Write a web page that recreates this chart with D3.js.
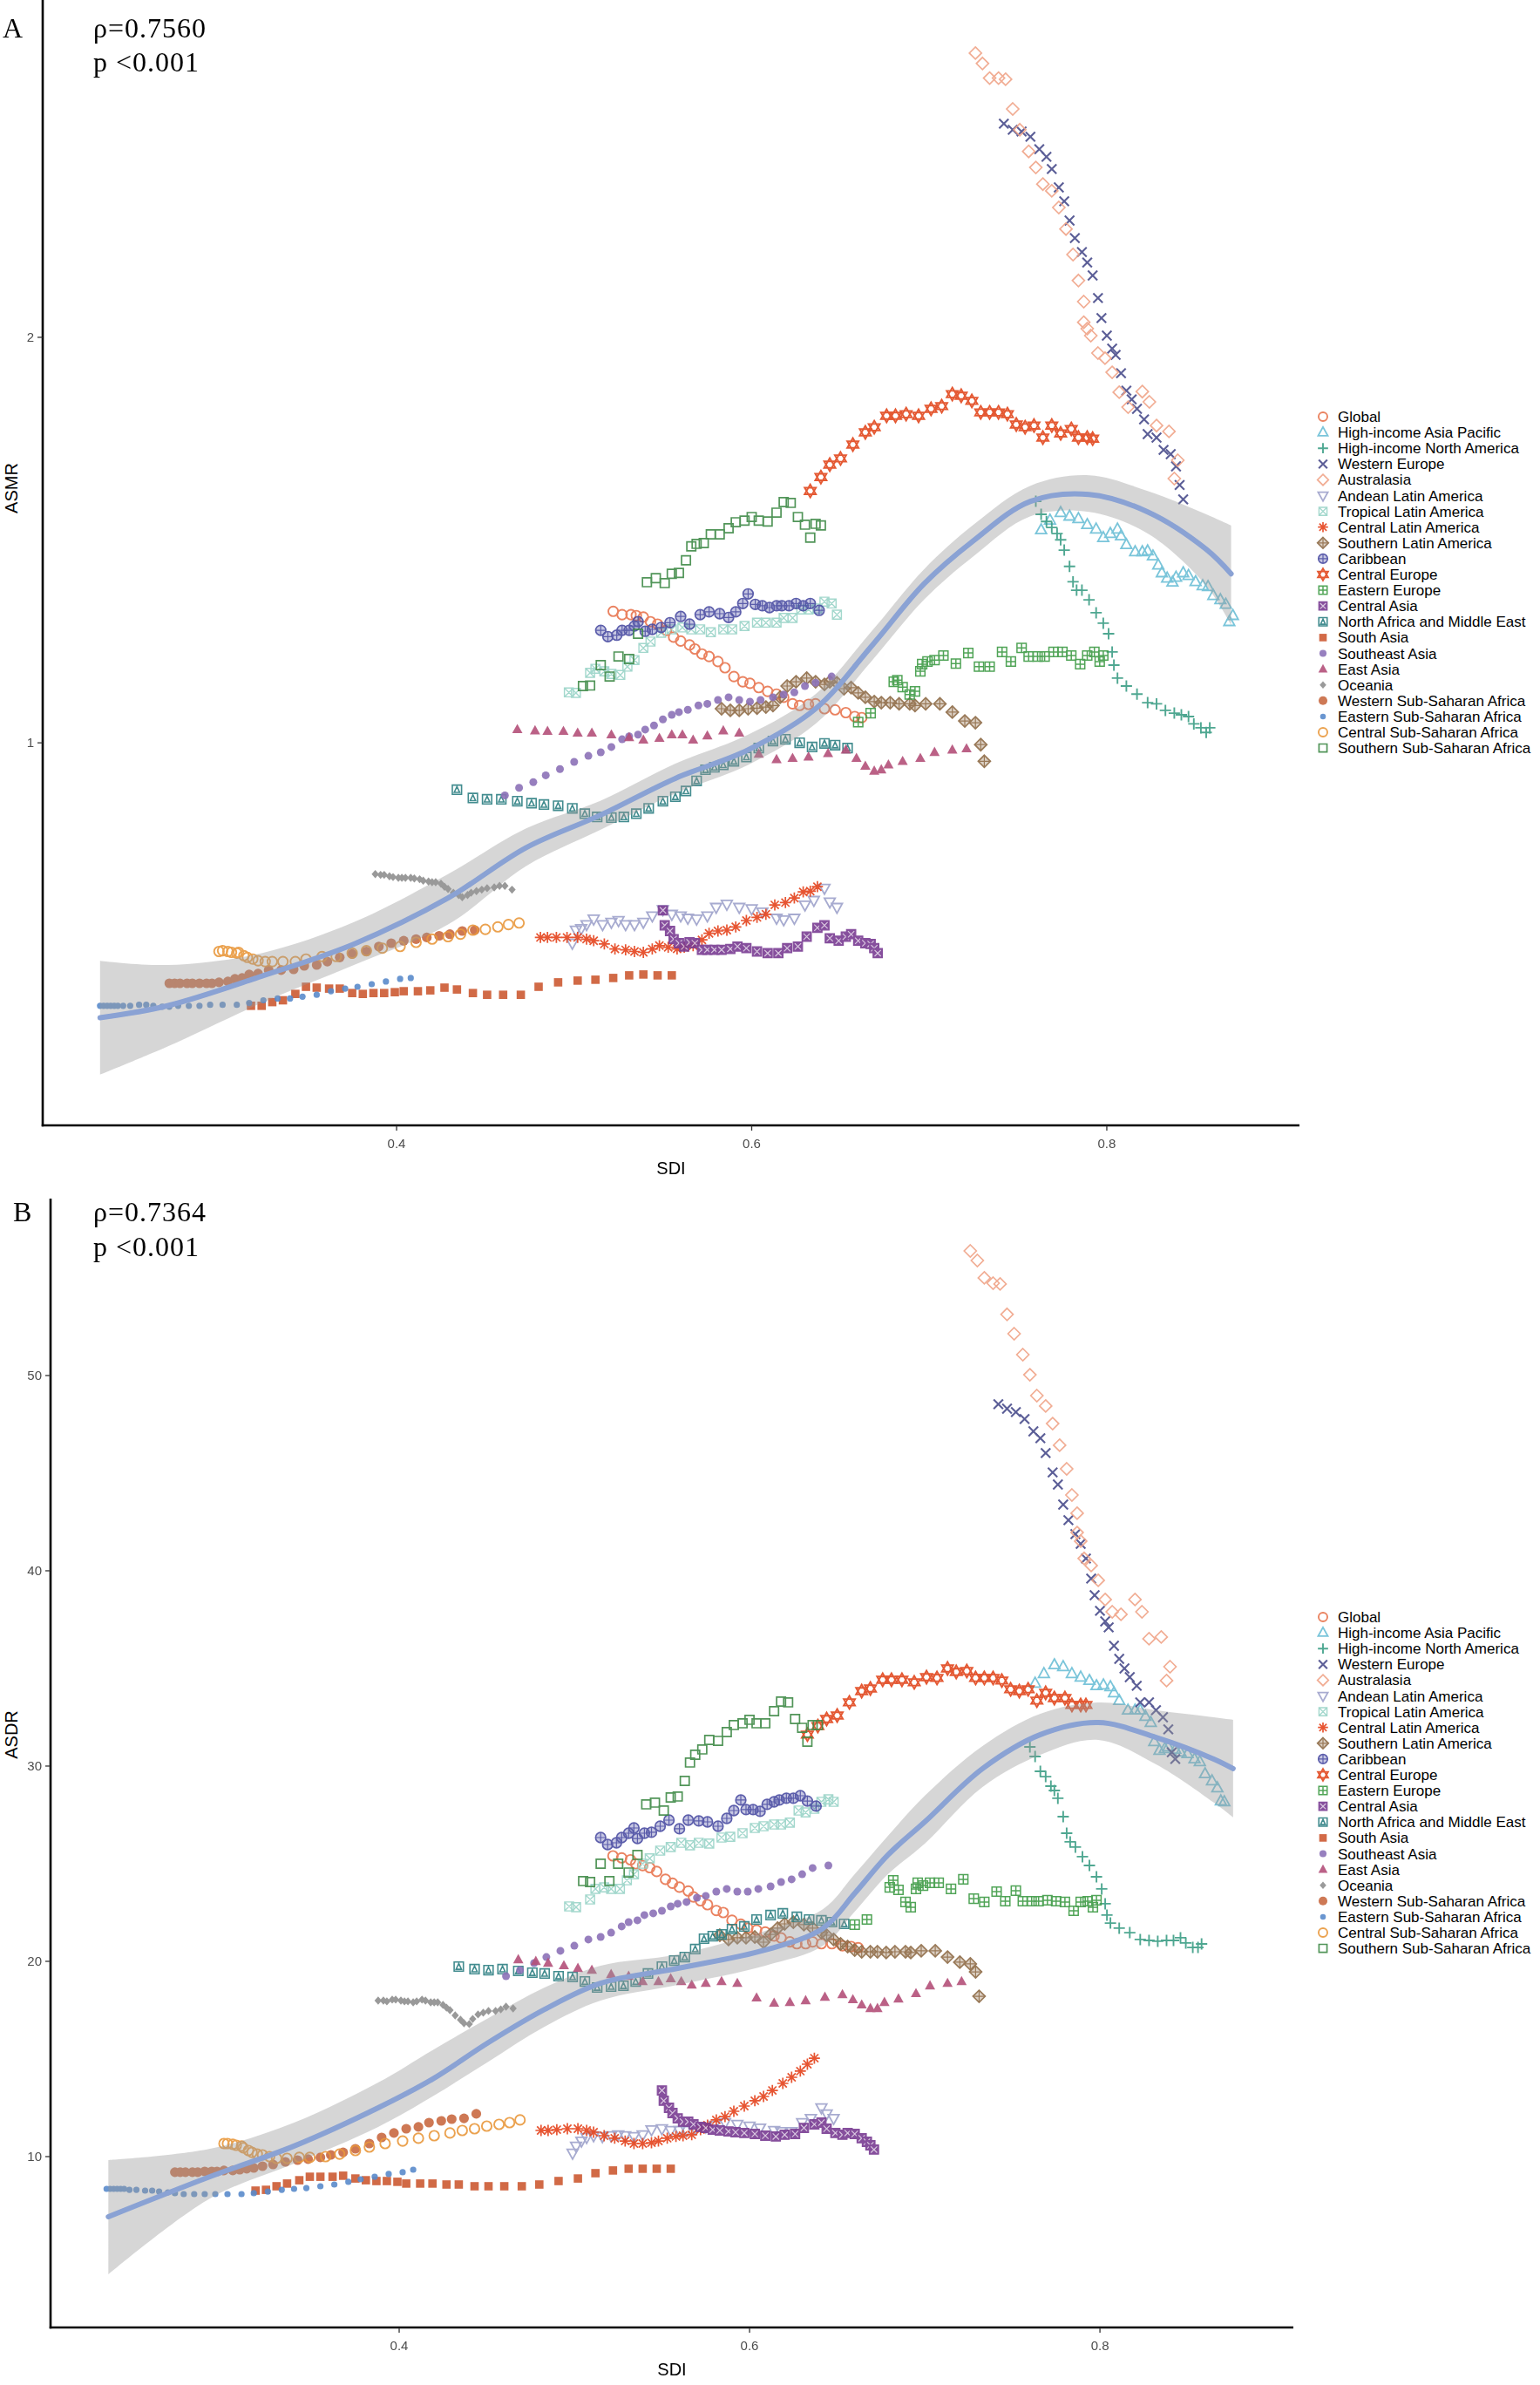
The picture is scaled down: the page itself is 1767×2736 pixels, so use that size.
<!DOCTYPE html>
<html><head><meta charset="utf-8">
<script src="https://cdn.jsdelivr.net/npm/d3@7"></script>
<style>body{margin:0;background:#fff}</style>
</head><body>
<svg id="chart" width="1767" height="2736"></svg>
<script>
// ---------------- DATA ----------------
const regionNames = ["Global","High-income Asia Pacific","High-income North America","Western Europe","Australasia","Andean Latin America","Tropical Latin America","Central Latin America","Southern Latin America","Caribbean","Central Europe","Eastern Europe","Central Asia","North Africa and Middle East","South Asia","Southeast Asia","East Asia","Oceania","Western Sub-Saharan Africa","Eastern Sub-Saharan Africa","Central Sub-Saharan Africa","Southern Sub-Saharan Africa"];
const regionColors = ["#E8754F","#6CBFD6","#3C9E86","#4A4D8C","#F0A488","#9EA2CB","#9AD4C8","#E5431C","#8E6B46","#4B4DA3","#E2471D","#3E9B45","#7A3C93","#2E8083","#CD5A33","#8C72B8","#B4507A","#8F8F8F","#C96A42","#5A8BCB","#E9983C","#3F8A47"];
const regionShapes = ["circleOpen","triUp","plus","cross","diamond","triDown","squareCross","asterisk","diamondPlus","circlePlus","hexagram","squarePlus","squareX","squareTri","squareFill","circleFill","triFill","diamondSmall","circleSolid","bullet","circleOpen","squareOpen"];

const sdiGlobal=[0.522,0.527,0.532,0.535,0.539,0.543,0.547,0.552,0.556,0.560,0.565,0.568,0.572,0.576,0.581,0.585,0.590,0.595,0.599,0.604,0.609,0.614,0.618,0.623,0.627,0.632,0.636,0.641,0.647,0.653,0.658,0.662];
const asmrGlobal=[1.252,1.245,1.245,1.243,1.240,1.230,1.225,1.212,1.198,1.190,1.182,1.174,1.164,1.159,1.149,1.137,1.120,1.110,1.107,1.099,1.092,1.087,1.081,1.069,1.066,1.068,1.069,1.060,1.058,1.053,1.046,1.044];
const asdrGlobal=[25.4,25.3,25.2,25.0,24.9,24.8,24.6,24.2,24.0,23.8,23.6,23.3,23.1,22.9,22.6,22.5,22.1,21.9,21.7,21.6,21.5,21.3,21.2,21.0,20.9,20.9,21.0,20.9,20.9,20.8,20.76,20.7];

const sdiHIAP=[0.763,0.768,0.774,0.779,0.784,0.789,0.794,0.798,0.802,0.806,0.808,0.811,0.816,0.820,0.823,0.826,0.829,0.831,0.834,0.837,0.839,0.843,0.846,0.850,0.854,0.857,0.860,0.864,0.867,0.871,0.869];
const asmrHIAP=[1.439,1.463,1.482,1.473,1.467,1.452,1.441,1.420,1.430,1.441,1.424,1.403,1.386,1.386,1.388,1.376,1.355,1.337,1.325,1.316,1.327,1.337,1.331,1.317,1.308,1.306,1.286,1.277,1.267,1.243,1.230];
const asdrHIAP=[34.24,34.73,35.18,35.09,34.73,34.55,34.38,34.11,34.15,34.06,33.75,33.35,32.86,32.86,32.86,32.54,32.23,31.25,30.80,30.89,30.98,30.85,30.71,30.63,30.36,30.22,29.60,29.24,28.88,28.17,28.21];

const sdiHINA=[0.760,0.763,0.766,0.769,0.772,0.774,0.776,0.779,0.781,0.783,0.786,0.790,0.794,0.798,0.801,0.803,0.804,0.806,0.811,0.817,0.823,0.828,0.833,0.838,0.842,0.846,0.849,0.853,0.856,0.858];
const asmrHINA=[1.511,1.478,1.460,1.445,1.430,1.415,1.390,1.352,1.317,1.298,1.298,1.277,1.249,1.227,1.205,1.168,1.142,1.117,1.102,1.087,1.071,1.069,1.057,1.052,1.049,1.046,1.033,1.026,1.018,1.026];
const asdrHINA=[30.98,30.49,29.73,29.46,28.97,28.75,28.35,27.41,26.56,26.12,25.85,25.36,24.91,24.33,23.71,22.95,22.37,21.96,21.70,21.47,21.12,21.07,21.03,21.07,21.07,21.21,20.94,20.71,20.71,20.89];

const sdiWEur=[0.742,0.747,0.752,0.757,0.762,0.766,0.769,0.773,0.776,0.779,0.782,0.786,0.789,0.792,0.795,0.797,0.800,0.803,0.805,0.808,0.811,0.814,0.817,0.821,0.823,0.828,0.832,0.836,0.839,0.841,0.843];
const asmrWEur=[2.882,2.852,2.843,2.818,2.759,2.723,2.667,2.584,2.524,2.442,2.370,2.314,2.273,2.223,2.139,2.067,2.006,1.962,1.941,1.881,1.826,1.799,1.770,1.738,1.695,1.685,1.650,1.638,1.604,1.554,1.516];
const asdrWEur=[48.53,48.30,48.13,47.77,47.14,46.79,46.03,45.04,44.42,43.39,42.59,41.88,41.38,40.63,39.60,38.75,37.95,37.41,37.10,36.16,35.49,35.00,34.55,34.11,33.26,33.26,32.86,32.50,31.88,30.71,30.36];

const sdiAus=[0.726,0.730,0.734,0.739,0.743,0.747,0.751,0.756,0.760,0.764,0.769,0.773,0.777,0.781,0.784,0.787,0.787,0.789,0.791,0.795,0.799,0.803,0.807,0.812,0.820,0.824,0.828,0.835,0.840,0.838];
const asmrAus=[3.251,3.194,3.115,3.115,3.109,2.955,2.852,2.748,2.674,2.599,2.569,2.497,2.407,2.304,2.204,2.126,2.052,2.030,2.006,1.947,1.930,1.884,1.821,1.775,1.823,1.791,1.720,1.703,1.621,1.571];
const asdrAus=[56.38,55.89,55.0,54.73,54.69,53.13,52.14,51.07,50.04,48.97,48.44,47.54,46.43,45.22,43.88,42.95,41.96,41.52,40.63,40.27,39.51,38.53,37.90,37.77,38.53,37.90,36.52,36.61,35.09,34.38];

const sdiAndean=[0.499,0.501,0.504,0.507,0.511,0.516,0.521,0.525,0.529,0.534,0.539,0.544,0.550,0.555,0.560,0.564,0.569,0.575,0.580,0.586,0.593,0.600,0.606,0.614,0.618,0.624,0.630,0.635,0.641,0.644,0.648];
const asmrAndean=[0.710,0.726,0.728,0.733,0.740,0.733,0.736,0.738,0.733,0.733,0.736,0.744,0.752,0.746,0.744,0.741,0.740,0.744,0.755,0.759,0.755,0.753,0.749,0.741,0.739,0.741,0.758,0.764,0.780,0.762,0.755];
const asdrAndean=[10.18,10.54,10.80,10.98,11.07,11.03,11.07,11.12,11.07,11.03,11.12,11.38,11.43,11.34,11.34,11.34,11.43,11.52,11.61,11.74,11.65,11.56,11.47,11.34,11.29,11.29,11.74,11.96,12.50,12.19,11.96];

const sdiTropLA=[0.497,0.501,0.509,0.512,0.517,0.521,0.526,0.530,0.534,0.539,0.543,0.549,0.555,0.561,0.566,0.571,0.577,0.584,0.589,0.596,0.603,0.608,0.614,0.618,0.623,0.628,0.632,0.637,0.641,0.645,0.648];
const asmrTropLA=[1.090,1.089,1.127,1.135,1.130,1.125,1.123,1.139,1.152,1.176,1.189,1.207,1.214,1.218,1.214,1.214,1.208,1.214,1.214,1.221,1.228,1.228,1.228,1.238,1.238,1.256,1.256,1.258,1.273,1.269,1.245];
const asdrTropLA=[22.81,22.77,23.17,23.71,23.79,23.71,23.71,24.15,24.46,25.0,25.27,25.67,25.85,26.07,25.94,26.07,26.03,26.34,26.38,26.56,26.83,26.92,27.01,27.01,27.10,27.72,27.63,27.81,28.17,28.30,28.17];

const sdiCenLA=[0.481,0.485,0.490,0.496,0.502,0.507,0.511,0.517,0.523,0.529,0.534,0.539,0.544,0.548,0.553,0.558,0.562,0.567,0.572,0.576,0.581,0.586,0.591,0.597,0.603,0.608,0.613,0.619,0.624,0.629,0.633,0.637];
const asmrCenLA=[0.717,0.717,0.717,0.717,0.717,0.715,0.713,0.709,0.703,0.702,0.700,0.699,0.703,0.707,0.705,0.703,0.705,0.707,0.714,0.722,0.725,0.726,0.730,0.738,0.742,0.746,0.758,0.761,0.767,0.775,0.776,0.782];
const asdrCenLA=[11.34,11.34,11.38,11.43,11.43,11.34,11.25,11.07,10.94,10.80,10.67,10.67,10.71,10.80,10.94,11.03,11.07,11.12,11.38,11.61,11.88,12.05,12.32,12.59,12.86,13.08,13.39,13.75,14.06,14.38,14.73,15.04];

const sdiSouLA=[0.583,0.588,0.593,0.598,0.603,0.608,0.612,0.616,0.620,0.625,0.631,0.636,0.641,0.644,0.648,0.652,0.656,0.660,0.664,0.669,0.673,0.678,0.683,0.689,0.692,0.698,0.706,0.713,0.720,0.726,0.729,0.731];
const asmrSouLA=[1.060,1.057,1.057,1.060,1.061,1.063,1.066,1.081,1.102,1.110,1.117,1.110,1.105,1.110,1.108,1.097,1.099,1.089,1.081,1.073,1.071,1.071,1.069,1.069,1.066,1.069,1.069,1.054,1.038,1.035,0.997,0.969];
const asdrSouLA=[21.34,21.12,21.21,21.21,21.25,20.98,21.38,21.70,21.92,22.01,21.88,21.70,21.47,21.34,21.12,20.89,20.76,20.58,20.49,20.49,20.49,20.45,20.49,20.49,20.45,20.54,20.54,20.22,19.96,19.87,19.46,18.21];

const sdiCarib=[0.515,0.519,0.524,0.527,0.531,0.534,0.536,0.540,0.544,0.549,0.554,0.560,0.565,0.571,0.576,0.582,0.587,0.591,0.595,0.598,0.602,0.606,0.610,0.614,0.617,0.621,0.625,0.629,0.633,0.638];
const asmrCarib=[1.212,1.199,1.202,1.212,1.212,1.221,1.230,1.210,1.214,1.218,1.228,1.241,1.225,1.245,1.251,1.247,1.239,1.251,1.269,1.290,1.267,1.264,1.260,1.264,1.264,1.264,1.269,1.264,1.269,1.254];
const asdrCarib=[26.34,25.98,26.07,26.34,26.56,26.83,26.29,26.56,26.61,26.92,27.23,26.79,27.23,27.19,27.14,26.92,27.32,27.72,28.26,27.77,27.77,27.68,28.04,28.17,28.26,28.35,28.35,28.48,28.21,27.95];

const sdiCenEur=[0.633,0.639,0.644,0.650,0.657,0.664,0.669,0.676,0.681,0.687,0.694,0.701,0.707,0.713,0.718,0.724,0.729,0.734,0.739,0.744,0.749,0.754,0.759,0.764,0.769,0.774,0.780,0.784,0.789,0.792];
const asmrCenEur=[1.538,1.575,1.609,1.626,1.665,1.700,1.715,1.749,1.749,1.754,1.749,1.770,1.778,1.815,1.810,1.794,1.759,1.759,1.759,1.754,1.723,1.715,1.720,1.685,1.720,1.697,1.710,1.685,1.685,1.682];
const asdrCenEur=[31.61,32.05,32.41,32.59,33.26,33.84,33.97,34.42,34.42,34.42,34.29,34.55,34.51,35.0,34.82,34.87,34.51,34.51,34.51,34.38,33.93,33.84,33.93,33.35,33.75,33.48,33.48,33.13,33.13,33.13];

const sdiEEur=[0.660,0.667,0.680,0.682,0.685,0.689,0.692,0.695,0.696,0.699,0.703,0.708,0.715,0.722,0.728,0.734,0.741,0.746,0.752,0.756,0.761,0.765,0.770,0.775,0.780,0.785,0.789,0.793,0.796,0.798];
const asmrEEur=[1.036,1.052,1.110,1.113,1.100,1.086,1.092,1.130,1.144,1.149,1.152,1.161,1.145,1.166,1.139,1.139,1.168,1.149,1.176,1.159,1.159,1.159,1.168,1.168,1.161,1.144,1.161,1.168,1.149,1.161];
const asdrEEur=[21.88,22.14,23.79,24.15,23.66,23.04,22.77,23.71,24.02,23.88,24.02,24.02,23.71,24.20,23.21,23.04,23.57,23.08,23.62,23.08,23.08,23.08,23.13,23.08,23.04,22.59,23.04,23.08,22.77,23.13];

const sdiCenAsia=[0.550,0.551,0.554,0.556,0.559,0.562,0.565,0.568,0.572,0.575,0.579,0.583,0.588,0.592,0.597,0.603,0.609,0.615,0.620,0.626,0.631,0.637,0.641,0.644,0.649,0.653,0.656,0.660,0.664,0.667,0.669,0.671];
const asmrCenAsia=[0.751,0.732,0.725,0.715,0.710,0.706,0.711,0.710,0.702,0.702,0.702,0.702,0.703,0.706,0.704,0.700,0.698,0.698,0.704,0.706,0.718,0.729,0.732,0.716,0.713,0.718,0.721,0.713,0.710,0.709,0.704,0.698];
const asdrCenAsia=[13.39,12.86,12.50,12.23,11.96,11.79,11.79,11.65,11.52,11.47,11.38,11.34,11.29,11.25,11.21,11.16,11.07,11.03,11.12,11.16,11.47,11.65,11.74,11.43,11.21,11.12,11.21,11.16,10.94,10.76,10.58,10.36];

const sdiNAME=[0.434,0.443,0.451,0.459,0.468,0.476,0.483,0.491,0.499,0.506,0.513,0.521,0.528,0.535,0.542,0.550,0.557,0.563,0.569,0.574,0.579,0.584,0.590,0.597,0.604,0.612,0.619,0.627,0.634,0.641,0.647,0.654];
const asmrNAME=[0.923,0.910,0.908,0.908,0.905,0.902,0.900,0.898,0.894,0.886,0.881,0.880,0.881,0.886,0.894,0.905,0.912,0.921,0.937,0.955,0.959,0.963,0.969,0.976,0.991,1.003,1.006,1.000,0.993,0.999,0.996,0.991];
const asdrNAME=[19.73,19.60,19.55,19.60,19.51,19.42,19.38,19.24,19.20,18.97,18.66,18.71,18.75,18.97,19.38,19.73,20.04,20.22,20.63,21.16,21.29,21.38,21.65,21.79,22.14,22.37,22.46,22.28,22.14,22.10,22.01,21.92];

const sdiSAsia=[0.318,0.324,0.330,0.336,0.343,0.349,0.355,0.362,0.368,0.375,0.381,0.387,0.393,0.399,0.404,0.412,0.419,0.427,0.434,0.443,0.451,0.460,0.470,0.480,0.491,0.502,0.512,0.522,0.531,0.539,0.547,0.555];
const asmrSAsia=[0.638,0.638,0.642,0.644,0.651,0.659,0.658,0.657,0.657,0.652,0.651,0.652,0.652,0.653,0.654,0.654,0.655,0.658,0.656,0.652,0.650,0.650,0.650,0.659,0.664,0.666,0.667,0.669,0.672,0.673,0.672,0.672];
const asdrSAsia=[8.26,8.30,8.48,8.62,8.79,8.97,8.97,8.97,9.02,8.88,8.79,8.75,8.75,8.71,8.62,8.62,8.62,8.57,8.57,8.48,8.48,8.48,8.48,8.57,8.75,8.88,9.15,9.29,9.38,9.38,9.38,9.38];

const sdiSEAsia=[0.461,0.469,0.477,0.484,0.492,0.500,0.508,0.515,0.521,0.527,0.531,0.536,0.540,0.545,0.550,0.555,0.559,0.564,0.570,0.575,0.581,0.587,0.593,0.599,0.605,0.612,0.618,0.624,0.630,0.636,0.645];
const asmrSEAsia=[0.914,0.926,0.935,0.946,0.956,0.968,0.978,0.984,0.993,1.006,1.011,1.014,1.023,1.030,1.041,1.049,1.054,1.058,1.066,1.069,1.076,1.081,1.076,1.073,1.076,1.081,1.086,1.090,1.102,1.108,1.120];
const asdrSEAsia=[19.24,19.55,19.91,20.22,20.54,20.80,21.12,21.25,21.47,21.79,22.01,22.10,22.37,22.46,22.59,22.81,22.95,23.04,23.26,23.35,23.57,23.71,23.57,23.57,23.71,23.84,24.06,24.20,24.46,24.78,24.91];

const sdiEAsia=[0.468,0.478,0.485,0.494,0.502,0.510,0.521,0.531,0.539,0.548,0.555,0.561,0.567,0.575,0.584,0.593,0.604,0.614,0.623,0.632,0.643,0.653,0.659,0.664,0.669,0.673,0.677,0.685,0.695,0.703,0.713,0.721];
const asmrEAsia=[1.023,1.021,1.020,1.020,1.017,1.017,1.014,1.009,1.005,1.008,1.014,1.014,1.005,1.012,1.021,1.017,0.981,0.972,0.974,0.976,0.982,0.988,0.974,0.961,0.953,0.955,0.963,0.969,0.974,0.984,0.988,0.990];
const asdrEAsia=[20.09,20.0,19.91,19.78,19.64,19.55,19.33,19.24,18.97,18.97,19.11,18.97,18.79,18.88,18.97,18.88,18.13,17.86,17.90,17.99,18.17,18.30,18.04,17.77,17.59,17.59,17.90,18.08,18.35,18.75,18.88,18.97];

const sdiOceania=[0.388,0.391,0.393,0.396,0.398,0.401,0.403,0.405,0.408,0.410,0.413,0.415,0.418,0.420,0.422,0.425,0.427,0.429,0.432,0.435,0.437,0.440,0.442,0.445,0.448,0.451,0.455,0.458,0.461,0.465];
const asmrOceania=[0.799,0.798,0.798,0.796,0.795,0.794,0.794,0.794,0.794,0.793,0.792,0.790,0.789,0.788,0.788,0.786,0.782,0.779,0.774,0.771,0.768,0.771,0.774,0.776,0.778,0.780,0.781,0.783,0.783,0.778];
const asdrOceania=[17.99,17.99,17.95,18.04,18.04,17.99,17.95,17.95,17.90,17.95,18.04,17.99,17.90,17.90,17.90,17.77,17.63,17.50,17.23,17.01,16.83,16.79,17.05,17.28,17.37,17.46,17.46,17.54,17.68,17.59];

const sdiWSSA=[0.272,0.275,0.278,0.282,0.285,0.289,0.293,0.296,0.300,0.305,0.309,0.313,0.317,0.322,0.328,0.335,0.342,0.348,0.355,0.361,0.368,0.375,0.383,0.390,0.397,0.404,0.411,0.417,0.424,0.430,0.437,0.444];
const asmrWSSA=[0.663,0.663,0.663,0.663,0.663,0.663,0.663,0.663,0.664,0.665,0.668,0.669,0.673,0.674,0.678,0.678,0.679,0.683,0.684,0.688,0.693,0.697,0.700,0.706,0.710,0.713,0.715,0.717,0.719,0.721,0.725,0.726];
const asdrWSSA=[9.20,9.20,9.20,9.20,9.20,9.24,9.24,9.24,9.29,9.29,9.33,9.38,9.42,9.51,9.60,9.73,9.82,9.87,9.96,10.09,10.22,10.40,10.67,10.98,11.21,11.43,11.52,11.74,11.83,11.92,11.96,12.19];

const sdiESSA=[0.233,0.235,0.237,0.239,0.241,0.243,0.246,0.250,0.255,0.259,0.263,0.268,0.272,0.277,0.283,0.289,0.295,0.302,0.310,0.317,0.325,0.333,0.340,0.347,0.355,0.363,0.371,0.378,0.386,0.394,0.402,0.408];
const asmrESSA=[0.638,0.638,0.638,0.638,0.638,0.638,0.638,0.638,0.639,0.639,0.638,0.637,0.637,0.638,0.638,0.638,0.639,0.639,0.639,0.641,0.644,0.646,0.646,0.648,0.650,0.654,0.657,0.659,0.662,0.665,0.668,0.669];
const asdrESSA=[8.35,8.35,8.35,8.35,8.35,8.35,8.30,8.30,8.26,8.26,8.21,8.17,8.13,8.08,8.08,8.08,8.08,8.08,8.08,8.13,8.21,8.30,8.35,8.39,8.48,8.57,8.71,8.84,8.97,9.11,9.20,9.33];

const sdiCSSA=[0.300,0.302,0.305,0.307,0.310,0.311,0.314,0.316,0.319,0.322,0.326,0.330,0.336,0.343,0.349,0.358,0.366,0.375,0.383,0.392,0.402,0.411,0.420,0.429,0.436,0.443,0.450,0.457,0.463,0.469];
const asmrCSSA=[0.700,0.701,0.700,0.699,0.698,0.699,0.695,0.693,0.691,0.689,0.688,0.688,0.688,0.688,0.691,0.694,0.694,0.698,0.701,0.704,0.706,0.711,0.715,0.718,0.721,0.726,0.727,0.730,0.733,0.735];
const asdrCSSA=[10.67,10.67,10.63,10.58,10.54,10.45,10.31,10.22,10.13,10.09,10.0,9.91,9.91,9.96,9.96,10.0,10.13,10.31,10.49,10.67,10.80,10.94,11.07,11.21,11.34,11.43,11.56,11.65,11.74,11.88];

const sdiSSSA=[0.505,0.509,0.515,0.520,0.525,0.531,0.536,0.541,0.546,0.551,0.555,0.559,0.563,0.566,0.569,0.573,0.577,0.582,0.587,0.591,0.596,0.600,0.604,0.609,0.614,0.618,0.622,0.626,0.630,0.633,0.636,0.639];
const asmrSSSA=[1.102,1.103,1.142,1.120,1.159,1.154,1.205,1.316,1.325,1.314,1.335,1.337,1.366,1.399,1.405,1.407,1.428,1.428,1.443,1.458,1.462,1.471,1.462,1.460,1.482,1.509,1.507,1.471,1.452,1.420,1.454,1.450];
const asdrSSSA=[24.11,24.06,25.0,24.11,25.0,24.55,25.45,28.04,28.13,27.72,28.39,28.44,29.24,30.18,30.58,30.85,31.34,31.29,31.74,32.10,32.19,32.37,32.19,32.19,32.81,33.30,33.26,32.41,31.96,31.25,32.10,32.10];

// smoothing curve (geom_smooth): fitted value and band
const smoothSdiA=[0.233,0.271,0.324,0.376,0.429,0.473,0.515,0.557,0.598,0.636,0.668,0.697,0.725,0.757,0.790,0.823,0.856,0.870];
const smoothFitA=[0.625,0.638,0.671,0.709,0.767,0.836,0.884,0.941,0.988,1.060,1.182,1.312,1.413,1.511,1.529,1.484,1.392,1.335];
const smoothHiA=[0.689,0.684,0.698,0.736,0.799,0.864,0.906,0.965,1.014,1.087,1.212,1.345,1.452,1.552,1.580,1.538,1.478,1.450];
const smoothLoA=[0.567,0.595,0.641,0.684,0.733,0.810,0.862,0.917,0.963,1.033,1.152,1.277,1.376,1.473,1.484,1.430,1.308,1.223];

const smoothSdiB=[0.234,0.292,0.340,0.388,0.419,0.451,0.483,0.515,0.559,0.609,0.642,0.660,0.679,0.700,0.733,0.766,0.799,0.832,0.865,0.876];
const smoothFitB=[6.92,8.97,10.54,12.50,13.97,15.85,17.54,18.88,19.64,20.58,21.70,23.48,25.45,27.14,29.87,31.61,32.23,31.47,30.36,29.87];
const smoothHiB=[9.82,10.40,11.74,13.79,15.45,17.10,18.66,19.78,20.36,21.56,22.68,24.46,26.43,28.48,31.03,32.68,33.26,32.86,32.50,32.37];
const smoothLoB=[3.97,7.86,9.64,11.52,13.08,14.87,16.65,17.99,18.79,19.78,20.80,22.54,24.46,26.03,28.93,30.58,31.34,30.09,28.13,27.37];

const xTicks=[0.4,0.6,0.8];
const yTicksA=[1,2];
const yTicksB=[10,20,30,40,50];

const sdiList=[sdiGlobal,sdiHIAP,sdiHINA,sdiWEur,sdiAus,sdiAndean,sdiTropLA,sdiCenLA,sdiSouLA,sdiCarib,sdiCenEur,sdiEEur,sdiCenAsia,sdiNAME,sdiSAsia,sdiSEAsia,sdiEAsia,sdiOceania,sdiWSSA,sdiESSA,sdiCSSA,sdiSSSA];
const asmrList=[asmrGlobal,asmrHIAP,asmrHINA,asmrWEur,asmrAus,asmrAndean,asmrTropLA,asmrCenLA,asmrSouLA,asmrCarib,asmrCenEur,asmrEEur,asmrCenAsia,asmrNAME,asmrSAsia,asmrSEAsia,asmrEAsia,asmrOceania,asmrWSSA,asmrESSA,asmrCSSA,asmrSSSA];
const asdrList=[asdrGlobal,asdrHIAP,asdrHINA,asdrWEur,asdrAus,asdrAndean,asdrTropLA,asdrCenLA,asdrSouLA,asdrCarib,asdrCenEur,asdrEEur,asdrCenAsia,asdrNAME,asdrSAsia,asdrSEAsia,asdrEAsia,asdrOceania,asdrWSSA,asdrESSA,asdrCSSA,asdrSSSA];

// ---------------- DRAWING ----------------
const svg=d3.select("#chart");
svg.append("rect").attr("width",1767).attr("height",2736).attr("fill","#fff");

function marker(g, shape, color, k){
  k=k||1;
  const sw=1.8;
  const P=(d,fill,w)=>g.append("path").attr("d",d).attr("fill",fill||"none").attr("stroke",color).attr("stroke-width",w||sw);
  const s=v=>(v*k).toFixed(2);
  switch(shape){
    case "circleOpen": g.append("circle").attr("r",5.6*k).attr("fill","none").attr("stroke",color).attr("stroke-width",1.9); break;
    case "triUp": P(`M0,${s(-6.9)}L${s(6.2)},${s(4.3)}L${s(-6.2)},${s(4.3)}Z`); break;
    case "triDown": P(`M0,${s(6.9)}L${s(6.2)},${s(-4.3)}L${s(-6.2)},${s(-4.3)}Z`); break;
    case "plus": P(`M${s(-6.5)},0H${s(6.5)}M0,${s(-6.5)}V${s(6.5)}`,null,1.9); break;
    case "cross": P(`M${s(-5.4)},${s(-5.4)}L${s(5.4)},${s(5.4)}M${s(-5.4)},${s(5.4)}L${s(5.4)},${s(-5.4)}`,null,2.1); break;
    case "diamond": P(`M0,${s(-7)}L${s(7)},0L0,${s(7)}L${s(-7)},0Z`,null,1.7); break;
    case "squareCross": P(`M${s(-5.1)},${s(-5.1)}H${s(5.1)}V${s(5.1)}H${s(-5.1)}ZM${s(-5.1)},${s(-5.1)}L${s(5.1)},${s(5.1)}M${s(-5.1)},${s(5.1)}L${s(5.1)},${s(-5.1)}`,null,1.4); break;
    case "asterisk": P(`M${s(-6.4)},0H${s(6.4)}M0,${s(-6.4)}V${s(6.4)}M${s(-4.6)},${s(-4.6)}L${s(4.6)},${s(4.6)}M${s(-4.6)},${s(4.6)}L${s(4.6)},${s(-4.6)}`,null,1.7); break;
    case "diamondPlus": P(`M0,${s(-7)}L${s(7)},0L0,${s(7)}L${s(-7)},0Z`,"rgba(142,107,70,0.35)",1.7); P(`M${s(-7)},0H${s(7)}M0,${s(-7)}V${s(7)}`,null,1.2); break;
    case "circlePlus": g.append("circle").attr("r",5.8*k).attr("fill","rgba(75,77,163,0.35)").attr("stroke",color).attr("stroke-width",1.7); P(`M${s(-5.8)},0H${s(5.8)}M0,${s(-5.8)}V${s(5.8)}`,null,1.2); break;
    case "hexagram": P(`M0,${s(-7.5)}L${s(6.5)},${s(3.75)}L${s(-6.5)},${s(3.75)}ZM0,${s(7.5)}L${s(6.5)},${s(-3.75)}L${s(-6.5)},${s(-3.75)}Z`,null,1.9); break;
    case "squarePlus": P(`M${s(-5.3)},${s(-5.3)}H${s(5.3)}V${s(5.3)}H${s(-5.3)}ZM${s(-5.3)},0H${s(5.3)}M0,${s(-5.3)}V${s(5.3)}`,null,1.5); break;
    case "squareX": P(`M${s(-5.3)},${s(-5.3)}H${s(5.3)}V${s(5.3)}H${s(-5.3)}Z`,color,1.2); g.append("path").attr("d",`M${s(-3.6)},${s(-3.6)}L${s(3.6)},${s(3.6)}M${s(-3.6)},${s(3.6)}L${s(3.6)},${s(-3.6)}`).attr("stroke","rgba(255,255,255,0.7)").attr("stroke-width",1.2); break;
    case "squareTri": P(`M${s(-5.3)},${s(-5.3)}H${s(5.3)}V${s(5.3)}H${s(-5.3)}ZM0,${s(-3.6)}L${s(3.1)},${s(3.1)}L${s(-3.1)},${s(3.1)}Z`,null,1.6); break;
    case "squareFill": g.append("rect").attr("x",-4.8*k).attr("y",-4.8*k).attr("width",9.6*k).attr("height",9.6*k).attr("fill",color); break;
    case "circleFill": g.append("circle").attr("r",4.5*k).attr("fill",color); break;
    case "triFill": g.append("path").attr("d",`M0,${s(-6.4)}L${s(5.9)},${s(4.2)}L${s(-5.9)},${s(4.2)}Z`).attr("fill",color); break;
    case "diamondSmall": g.append("path").attr("d",`M0,${s(-4.7)}L${s(4.2)},0L0,${s(4.7)}L${s(-4.2)},0Z`).attr("fill",color); break;
    case "circleSolid": g.append("circle").attr("r",5.6*k).attr("fill",color); break;
    case "bullet": g.append("circle").attr("r",3.6*k).attr("fill",color); break;
    case "squareOpen": P(`M${s(-5.1)},${s(-5.1)}H${s(5.1)}V${s(5.1)}H${s(-5.1)}Z`,null,1.7); break;
  }
}

function drawPanel(cfg){
  const g=svg.append("g");
  const x=cfg.x, y=cfg.y;
  // points
  for(let r=0;r<regionNames.length;r++){
    const xs=sdiList[r], ys=cfg.values[r];
    const n=Math.min(xs.length, ys.length);
    const gg=g.append("g").attr("opacity",0.9);
    for(let i=0;i<n;i++){
      const m=gg.append("g").attr("transform",`translate(${x(xs[i]).toFixed(1)},${y(ys[i]).toFixed(1)})`);
      marker(m, regionShapes[r], regionColors[r], 1);
    }
  }
  // smooth band + line
  const sm=cfg.smX.map((v,i)=>({x:v,f:cfg.smF[i],lo:cfg.smLo[i],hi:cfg.smHi[i]}));
  g.append("path").datum(sm)
    .attr("d",d3.area().curve(d3.curveCatmullRom.alpha(0.5)).x(d=>x(d.x)).y0(d=>y(d.lo)).y1(d=>y(d.hi)))
    .attr("fill","#999999").attr("fill-opacity",0.4);
  g.append("path").datum(sm)
    .attr("d",d3.line().curve(d3.curveCatmullRom.alpha(0.5)).x(d=>x(d.x)).y(d=>y(d.f)))
    .attr("fill","none").attr("stroke","#8AA2D4").attr("stroke-width",6).attr("stroke-linecap","round");
  // axes
  const [x0,x1]=x.range(); const [yb,yt]=y.range();
  g.append("line").attr("x1",x0).attr("x2",x0).attr("y1",yt).attr("y2",yb+1.2).attr("stroke","#000").attr("stroke-width",2.6);
  g.append("line").attr("x1",x0-1.2).attr("x2",x1).attr("y1",yb).attr("y2",yb).attr("stroke","#000").attr("stroke-width",2.6);
  xTicks.forEach(t=>{
    g.append("line").attr("x1",x(t)).attr("x2",x(t)).attr("y1",yb).attr("y2",yb+6).attr("stroke","#333").attr("stroke-width",1.3);
    g.append("text").attr("x",x(t)).attr("y",yb+26).attr("text-anchor","middle")
      .attr("font-family","Liberation Sans, Arial, sans-serif").attr("font-size",15).attr("fill","#4D4D4D").text(t.toFixed(1));
  });
  cfg.yTicks.forEach(t=>{
    g.append("line").attr("x1",x0-6).attr("x2",x0).attr("y1",y(t)).attr("y2",y(t)).attr("stroke","#333").attr("stroke-width",1.3);
    g.append("text").attr("x",x0-10).attr("y",y(t)+5).attr("text-anchor","end")
      .attr("font-family","Liberation Sans, Arial, sans-serif").attr("font-size",15).attr("fill","#4D4D4D").text(t);
  });
  g.append("text").attr("x",(x0+x1)/2).attr("y",cfg.xTitleY).attr("text-anchor","middle")
    .attr("font-family","Liberation Sans, Arial, sans-serif").attr("font-size",20).attr("fill","#000").text("SDI");
  g.append("text").attr("transform",`translate(20,${cfg.yTitleY}) rotate(-90)`).attr("text-anchor","middle")
    .attr("font-family","Liberation Sans, Arial, sans-serif").attr("font-size",20).attr("fill","#000").text(cfg.yTitle);
  // panel letter & stats
  const serif="Liberation Serif, 'Times New Roman', serif";
  g.append("text").attr("x",cfg.letterX).attr("y",cfg.statY1).attr("font-family",serif).attr("font-size",32).text(cfg.letter);
  g.append("text").attr("x",107).attr("y",cfg.statY1).attr("font-family",serif).attr("font-size",32).attr("letter-spacing",1).text(cfg.rho);
  g.append("text").attr("x",107).attr("y",cfg.statY2).attr("font-family",serif).attr("font-size",32).attr("letter-spacing",1).text("p <0.001");
  // legend
  regionNames.forEach((nm,i)=>{
    const yy=cfg.legY+i*18.1;
    const m=g.append("g").attr("transform",`translate(1518,${yy})`).attr("opacity",0.9);
    marker(m, regionShapes[i], regionColors[i], 0.9);
    g.append("text").attr("x",1535).attr("y",yy+6).attr("font-family","Liberation Sans, Arial, sans-serif")
      .attr("font-size",17).attr("fill","#000").text(nm);
  });
}

const xA=d3.scaleLinear().domain([0.2007,0.9085]).range([49,1491]);
const yA=d3.scaleLog().base(2).domain([0.520,3.56]).range([1291,0]);
drawPanel({x:xA,y:yA,values:asmrList,smX:smoothSdiA,smF:smoothFitA,smLo:smoothLoA,smHi:smoothHiA,
  yTicks:yTicksA,yTitle:"ASMR",yTitleY:560,xTitleY:1347,letter:"A",letterX:3,rho:"ρ=0.7560",statY1:43,statY2:82,legY:478});

const xB=d3.scaleLinear().domain([0.201,0.9104]).range([58,1484]);
const yB=d3.scaleLinear().domain([1.25,59.06]).range([2670,1375]);
drawPanel({x:xB,y:yB,values:asdrList,smX:smoothSdiB,smF:smoothFitB,smLo:smoothLoB,smHi:smoothHiB,
  yTicks:yTicksB,yTitle:"ASDR",yTitleY:1990,xTitleY:2725,letter:"B",letterX:15,rho:"ρ=0.7364",statY1:1401,statY2:1441,legY:1855});
</script>
</body></html>
